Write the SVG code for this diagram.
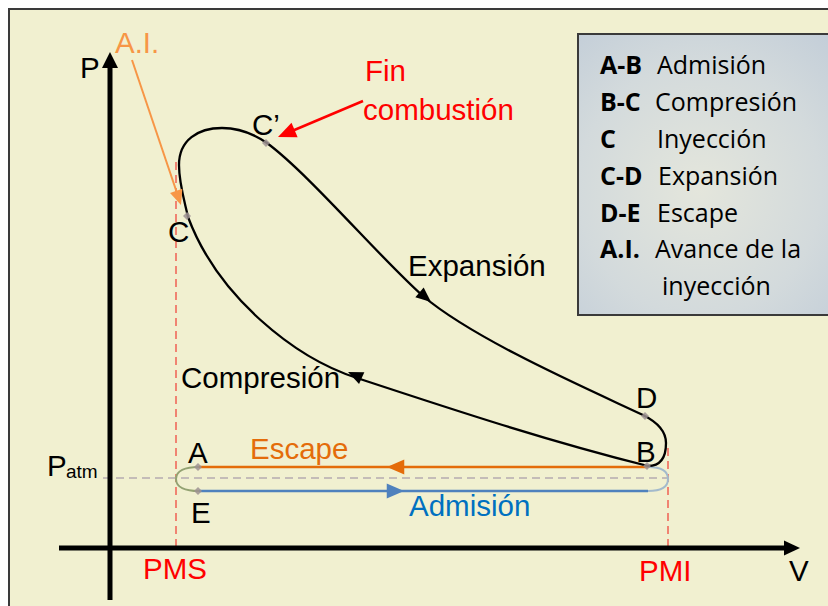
<svg xmlns="http://www.w3.org/2000/svg" width="828" height="606" viewBox="0 0 828 606">
  <defs>
    <radialGradient id="legendFill" cx="0.45" cy="0.55" r="0.75">
      <stop offset="0" stop-color="#E4E6DC"/>
      <stop offset="0.6" stop-color="#D3DADC"/>
      <stop offset="1" stop-color="#C2CDD8"/>
    </radialGradient>
    <path id="head" d="M0,0 L-15,-6.5 L-15,6.5 Z"/>
    <path id="pt" d="M0,-4 L4,0 L0,4 L-4,0 Z"/>
  </defs>
  <style>
    .lbl { font-family: "Liberation Sans", Arial, sans-serif; font-size: 29.5px; fill: #000; }
    .red { fill: #FF0000; }
    .guide { fill: none; stroke-width: 2; stroke-dasharray: 8 5; }
    .leg { font-family: "Open Sans", "Noto Sans", sans-serif; font-size: 25px; fill: #000; }
    .legb { font-weight: bold; }
    .pt { fill: #9E9292; opacity: 0.85; }
  </style>

  <!-- page and frame -->
  <rect x="0" y="0" width="828" height="606" fill="#FFFFFF"/>
  <rect x="9" y="9" width="840" height="620" fill="#F1F0D0" stroke="#3A3A3A" stroke-width="2"/>

  <!-- legend -->
  <g id="legend">
    <rect x="578" y="34" width="270" height="281" fill="url(#legendFill)" stroke="#3A3A3A" stroke-width="2"/>
    <text class="leg legb" x="600" y="74">A-B</text>
    <text class="leg" x="657" y="74">Admisión</text>
    <text class="leg legb" x="600" y="111">B-C</text>
    <text class="leg" x="655" y="111">Compresión</text>
    <text class="leg legb" x="600" y="148">C</text>
    <text class="leg" x="657" y="148">Inyección</text>
    <text class="leg legb" x="600" y="185">C-D</text>
    <text class="leg" x="658" y="185">Expansión</text>
    <text class="leg legb" x="600" y="222">D-E</text>
    <text class="leg" x="657" y="222">Escape</text>
    <text class="leg legb" x="600" y="258">A.I.</text>
    <text class="leg" x="655" y="258">Avance de la</text>
    <text class="leg" x="662" y="295">inyección</text>
  </g>

  <!-- reference lines: PMS, PMI, atmospheric pressure -->
  <g id="guides">
    <line class="guide" x1="176" y1="162" x2="176" y2="546" stroke="#F08472"/>
    <line class="guide" x1="668" y1="448" x2="668" y2="546" stroke="#F08472"/>
    <line class="guide" x1="103" y1="478" x2="668" y2="478" stroke="#C4BCB8" stroke-width="2.5"/>
  </g>

  <!-- axes -->
  <g id="axes">
    <line x1="110" y1="600" x2="110" y2="66" stroke="#000" stroke-width="5"/>
    <path d="M110,52 L102,68 L118,68 Z" fill="#000"/>
    <line x1="59" y1="548" x2="786" y2="548" stroke="#000" stroke-width="5"/>
    <path d="M800,548 L784,540.5 L784,555.5 Z" fill="#000"/>
    <text class="lbl" x="80" y="78">P</text>
    <text class="lbl" x="789" y="581">V</text>
    <text class="lbl" x="47" y="476">P</text>
    <text class="lbl" x="66" y="478" style="font-size:19px">atm</text>
    <text class="lbl red" x="143" y="579">PMS</text>
    <text class="lbl red" x="639" y="581">PMI</text>
  </g>

  <!-- intake / exhaust strokes at atmospheric pressure -->
  <g id="connectors">
    <path d="M199,467 C185,467 176,471 176,479 C176,487 185,491 199,491" fill="none" stroke="#93A272" stroke-width="2"/>
    <path d="M648,467 C662,467 668,471 668,479 C668,487 662,491 648,491" fill="none" stroke="#A3BACC" stroke-width="2"/>
    <line x1="199" y1="467" x2="648" y2="467" stroke="#E46C0A" stroke-width="2.5"/>
    <use href="#head" transform="translate(387,467) rotate(180) scale(1.15,1.15)" fill="#E46C0A"/>
    <line x1="199" y1="491" x2="648" y2="491" stroke="#4F81BD" stroke-width="2.5"/>
    <use href="#head" transform="translate(404,491) scale(1.15,1.15)" fill="#4F81BD"/>

    <!-- closed diesel cycle curve -->
    <path d="M648,466 C548,441 457,411 357,378 C295,358 218,297 188,217 C184,199 179,183 179,165 C179,140 198,128 222,128 C240,128 254,134 267,143 C310,175 380,258 423,296 C475,340 590,390 643,415 C655,421 666,430 666,443 C666,458 660,466 648,466 Z" fill="none" stroke="#000" stroke-width="2.3"/>
    <use href="#head" transform="translate(348,372) rotate(204)" fill="#000"/>
    <use href="#head" transform="translate(431,302) rotate(40)" fill="#000"/>

    <!-- injection advance arrow -->
    <line x1="132" y1="60" x2="177" y2="193" stroke="#F79646" stroke-width="2"/>
    <use href="#head" transform="translate(181,205) rotate(71.3)" fill="#F79646"/>

    <!-- end of combustion arrow -->
    <line x1="363" y1="101" x2="292" y2="131" stroke="#FF0000" stroke-width="2.5"/>
    <use href="#head" transform="translate(278,137) rotate(157) scale(1.2,1.2)" fill="#FF0000"/>
  </g>

  <!-- state points -->
  <g id="points">
    <use href="#pt" class="pt" x="187" y="216"/>
    <use href="#pt" class="pt" x="266" y="143"/>
    <use href="#pt" class="pt" x="645" y="416"/>
    <use href="#pt" class="pt" x="647" y="466"/>
    <use href="#pt" class="pt" x="198" y="467"/>
    <use href="#pt" class="pt" x="198" y="491"/>
  </g>

  <!-- labels -->
  <g id="labels">
    <text class="lbl" x="115" y="53" style="fill:#F79646">A.I.</text>
    <text class="lbl red" x="365" y="81">Fin</text>
    <text class="lbl red" x="363" y="120">combustión</text>
    <text class="lbl" x="252" y="135">C’</text>
    <text class="lbl" x="168" y="242">C</text>
    <text class="lbl" x="408" y="276">Expansión</text>
    <text class="lbl" x="181" y="388">Compresión</text>
    <text class="lbl" x="636" y="408">D</text>
    <text class="lbl" x="636" y="462">B</text>
    <text class="lbl" x="188" y="463">A</text>
    <text class="lbl" x="191" y="523">E</text>
    <text class="lbl" x="250" y="459" style="fill:#E46C0A">Escape</text>
    <text class="lbl" x="409" y="516" style="fill:#0070C0">Admisión</text>
  </g>
</svg>
